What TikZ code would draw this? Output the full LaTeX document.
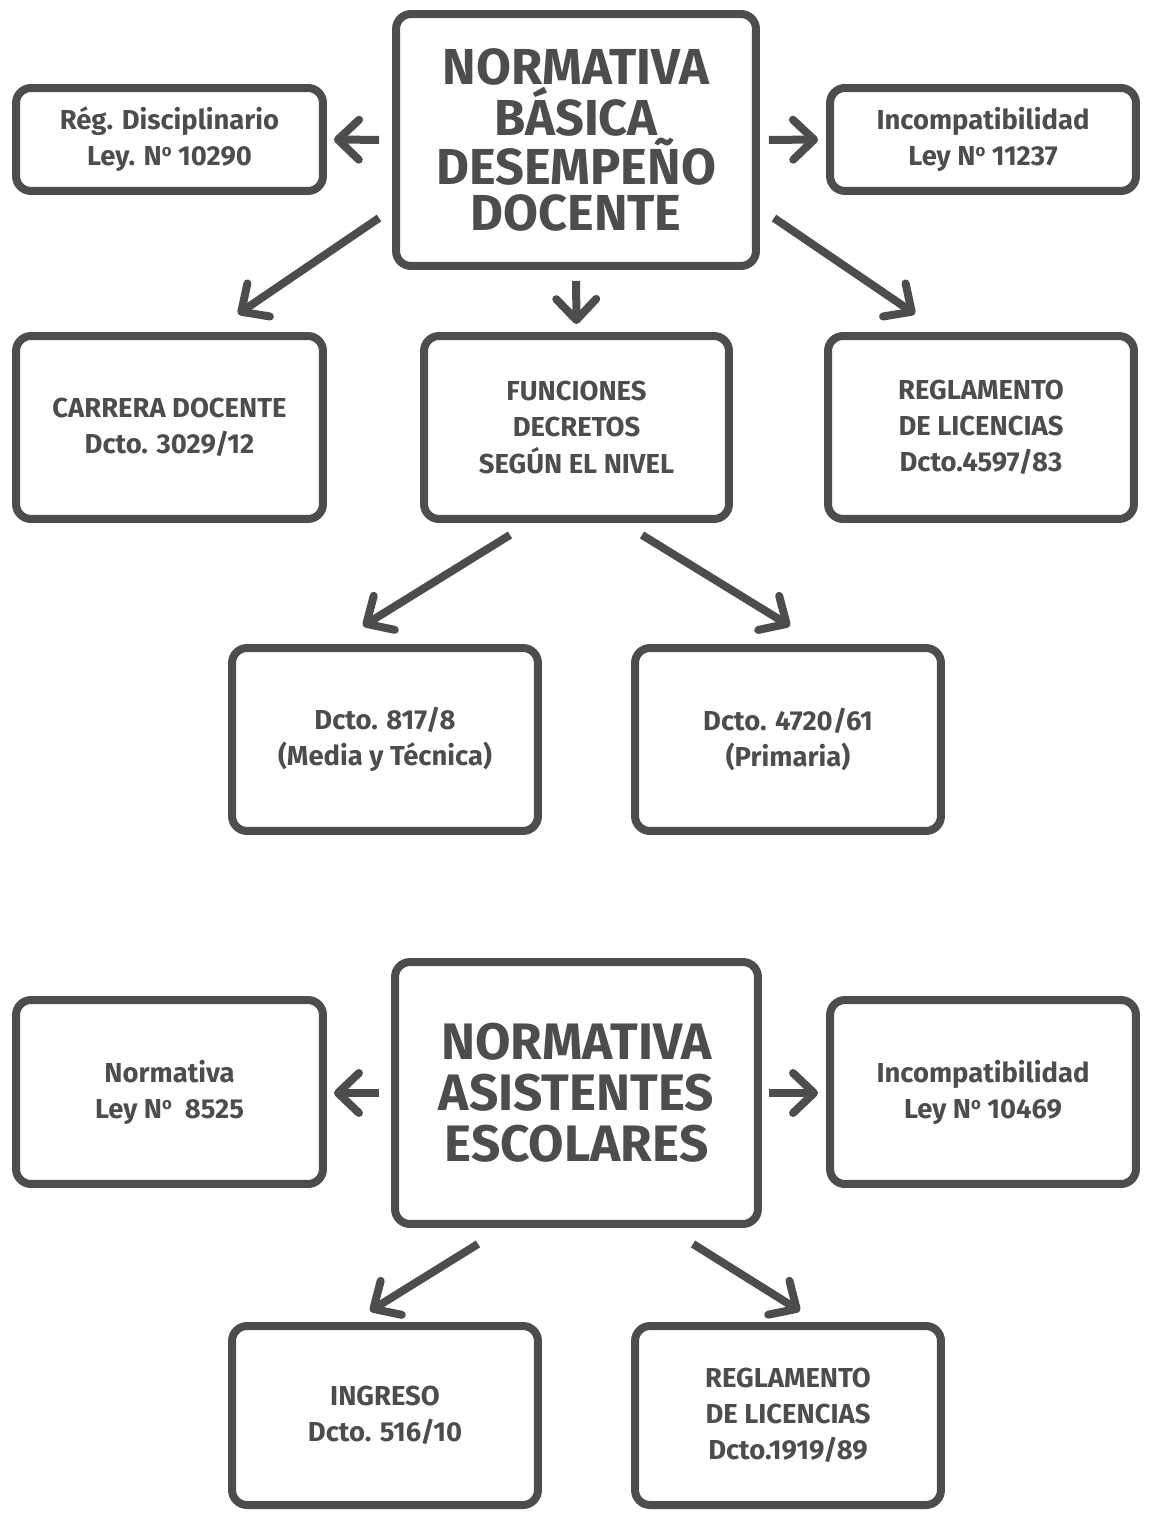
\documentclass[tikz,border=0pt]{standalone}
\usepackage{fontspec}
\setmainfont{Fira Sans}
\usetikzlibrary{arrows.meta,calc}
\definecolor{ink}{HTML}{4D4D4F}
\newcommand{\numero}{N\raisebox{0.62ex}{\fontsize{9.5}{9.5}\selectfont o}}

\begin{document}
\begin{tikzpicture}[x=0.02cm, y=-0.02cm, line width=0.16cm, draw=ink, text=ink,
  >={Straight Barb[length=0.42cm, width=0.8cm, round]},
  box/.style={draw, rounded corners=0.3cm, align=center, inner sep=0pt, font=\fontsize{15.6}{20.5}\selectfont\bfseries},
  titlebox/.style={box, font=\fontsize{28.8}{26.2}\selectfont\bfseries}]
\useasboundingbox (0,0) rectangle (1149,1513);

% first diagram
\node[titlebox, minimum width=7.2cm, minimum height=5.04cm] (basica) at (576,140) {NORMATIVA\\BÁSICA\\DESEMPEÑO\\DOCENTE};
\node[box, minimum width=6.14cm, minimum height=2.06cm] (disc) at (169.5,139.5) {Rég. Disciplinario\\Ley. \numero{} 10290};
\node[box, minimum width=6.12cm, minimum height=2.06cm] (incomp) at (983,139.5) {Incompatibilidad\\Ley \numero{} 11237};
\node[box, minimum width=6.14cm, minimum height=3.66cm] (carrera) at (169.5,427.5) {CARRERA DOCENTE\\Dcto. 3029/12};
\node[box, minimum width=6.1cm, minimum height=3.66cm] (funciones) at (576.5,427.5) {FUNCIONES\\DECRETOS\\SEGÚN EL NIVEL};
\node[box, minimum width=6.12cm, minimum height=3.66cm] (licencias) at (981,427.5) {REGLAMENTO\\DE LICENCIAS\\Dcto.4597/83};
\node[box, minimum width=6.12cm, minimum height=3.66cm] (media) at (385,739.5) {Dcto. 817/8\\(Media y Técnica)};
\node[box, minimum width=6.12cm, minimum height=3.66cm] (primaria) at (788,739.5) {Dcto. 4720/61\\(Primaria)};

\draw[->, shorten <=0.26cm, shorten >=0.14cm] (basica.west) -- (disc.east);
\draw[->, shorten <=0.18cm, shorten >=0.16cm] (basica.east) -- (incomp.west);
\draw[->] ($(basica.west)+(-13,78)$) -- ($(carrera.north)+(68.5,-18)$);
\draw[->, shorten <=0.22cm, shorten >=0.16cm] (basica.south) -- (funciones.north);
\draw[->] ($(basica.east)+(14,78)$) -- ($(licencias.north)+(-66,-18)$);
\draw[->] ($(funciones.south)+(-66.5,12)$) -- ($(media.north)+(-22,-18)$);
\draw[->] ($(funciones.south)+(65.5,12)$) -- ($(primaria.north)+(2,-18)$);

% second diagram
\node[titlebox, font=\fontsize{29.2}{29}\selectfont\bfseries, minimum width=7.26cm, minimum height=5.24cm] (asistentes) at (576.5,1093) {NORMATIVA\\ASISTENTES\\ESCOLARES};
\node[box, minimum width=6.14cm, minimum height=3.68cm] (ley) at (169.5,1092) {Normativa\\Ley \numero{}~~8525};
\node[box, minimum width=6.12cm, minimum height=3.68cm] (incompb) at (983,1092) {Incompatibilidad\\Ley \numero{} 10469};
\node[box, minimum width=6.12cm, minimum height=3.58cm] (ingreso) at (385,1415.5) {INGRESO\\Dcto. 516/10};
\node[box, minimum width=6.12cm, minimum height=3.58cm] (licenciasb) at (788,1415.5) {REGLAMENTO\\DE LICENCIAS\\Dcto.1919/89};

\draw[->, shorten <=0.24cm, shorten >=0.14cm] (asistentes.west) -- (asistentes.west -| ley.east);
\draw[->, shorten <=0.14cm, shorten >=0.16cm] (asistentes.east) -- (asistentes.east -| incompb.west);
\draw[->] ($(asistentes.south)+(-98.5,16)$) -- ($(ingreso.north)+(-15,-11)$);
\draw[->] ($(asistentes.south)+(116.5,16)$) -- ($(licenciasb.north)+(12,-11)$);
\end{tikzpicture}
\end{document}
